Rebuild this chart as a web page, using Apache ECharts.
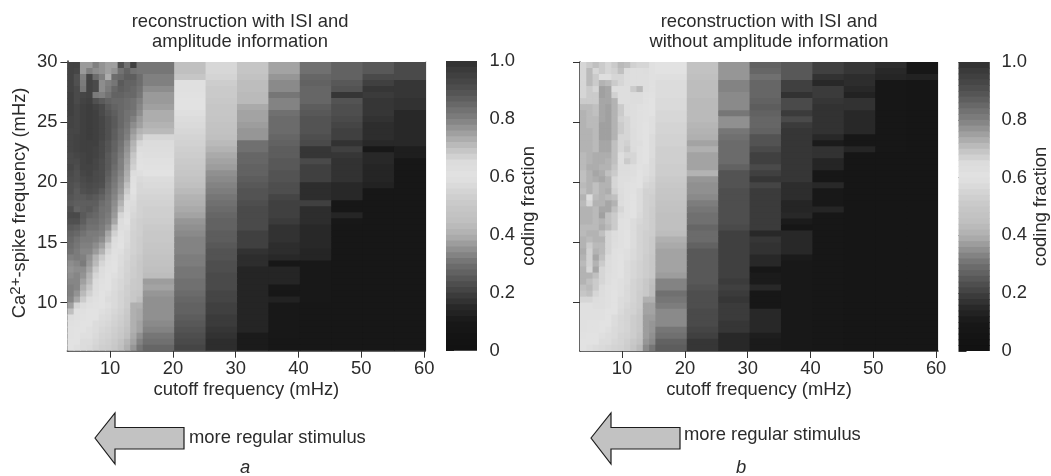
<!DOCTYPE html>
<html><head><meta charset="utf-8">
<style>html,body{margin:0;padding:0;background:#fff}#c{width:1051px;height:476px}</style>
<script src="https://cdn.jsdelivr.net/npm/echarts@6/dist/echarts.min.js"></script>
</head><body><div id="c"></div>
<script>
// Cell edges (mHz)
const cutoffEdgesA=[3.2,4.2,5.2,6.2,7.2,8.2,9.2,10.2,11.2,12.2,13.2,14.2,15.2,20.2,25.2,30.2,35.2,40.2,45.2,50.2,55.2,60.2];
const cutoffEdgesB=[3.3,4.3,5.3,6.3,7.3,8.3,9.3,10.3,11.3,12.3,13.3,14.3,15.3,20.3,25.3,30.3,35.3,40.3,45.3,50.3,55.3,60.3];
const caRowsTop=[30,29.5,29,28.5,28,27.5,27,26.5,26,25.5,25,24.5,24,23.5,23,22.5,22,21.5,21,20.5,20,19.5,19,18.5,18,17.5,17,16.5,16,15.5,15,14.5,14,13.5,13,12.5,12,11.5,11,10.5,10,9.5,9,8.5,8,7.5,7,6.5];
const rowStep=0.5;
const xTicks=[10,20,30,40,50,60], yTicks=[10,15,20,25,30], barTicks=[0,0.2,0.4,0.6,0.8,1];
// colour scale: coding fraction -> grey level
const scaleValues=[0,5,10,15,20,25,30,35,40,45,50,55,60,65,70,75,80,85,90,95,100];
const scaleGreys=[0x12,0x14,0x18,0x28,0x40,0x58,0x70,0x90,0xb0,0xc0,0xc8,0xd4,0xe2,0xdc,0xc0,0xa0,0x80,0x68,0x50,0x40,0x30];
const barLevels=[98,96,94,92,90,88,86,84,82,80,78,76,74,72,70,68,66,64,62,60,58,56,54,52,50,48,46,44,42,40,38,36,34,32,30,28,26,24,22,20,18,16,14,12,10,8,6,4,2,0];

// Panel a: coding fraction (%), rows top to bottom, 1 mHz columns from 3 to 15 mHz
const fineA=[
[94,94,76,76,80,77,75,75,90,83,95,82],
[94,93,76,80,78,77,75,77,83,86,83,82],
[94,90,80,93,84,80,73,84,85,87,87,84],
[94,90,81,94,92,78,80,82,88,86,86,84],
[94,92,82,94,92,78,81,85,87,86,85,83],
[95,92,93,94,81,80,83,86,86,85,85,82],
[95,92,94,95,90,88,86,85,85,84,83,80],
[95,93,95,96,94,92,88,86,85,84,83,79],
[95,93,95,96,95,92,89,87,85,83,82,78],
[94,93,95,96,95,93,90,88,85,83,80,76],
[94,93,95,96,95,93,90,88,85,82,78,75],
[93,93,95,96,95,93,90,87,84,81,76,72],
[93,94,95,96,95,93,90,87,84,80,74,70],
[93,94,95,95,95,92,89,86,83,78,72,66],
[93,94,95,95,94,92,89,86,82,77,71,64],
[92,93,94,95,94,92,88,85,81,76,69,62],
[92,92,94,95,93,91,88,85,80,75,68,61],
[93,91,94,94,93,91,88,84,80,74,67,60],
[92,90,93,94,92,91,87,83,79,73,64,59],
[91,90,92,93,92,91,86,82,78,72,62,57],
[90,89,91,92,91,90,85,81,77,70,61,56],
[90,88,90,91,90,88,84,80,76,68,60,56],
[89,88,88,89,88,86,83,79,74,66,59,55],
[88,87,87,87,87,84,82,78,72,63,58,54],
[90,86,87,88,86,83,82,77,70,63,57,54],
[92,92,88,86,85,83,81,76,66,62,56,54],
[90,90,87,84,84,82,80,74,64,60,55,53],
[88,87,85,83,83,81,78,70,63,59,55,53],
[86,85,83,81,81,80,74,67,62,58,54,53],
[85,83,81,81,80,78,72,65,61,58,54,52],
[84,82,80,80,78,75,68,63,60,57,54,52],
[83,81,79,79,76,72,66,62,59,56,54,52],
[80,81,80,77,72,68,63,61,58,56,53,51],
[78,79,81,76,71,66,62,60,58,55,53,50],
[77,78,78,74,68,64,61,60,57,55,52,50],
[78,79,77,72,66,63,60,59,57,54,52,50],
[79,79,75,71,65,62,60,58,56,54,51,50],
[80,79,73,69,64,61,60,58,56,53,51,50],
[80,77,71,67,63,60,59,57,55,53,50,49],
[79,74,68,64,62,60,58,57,55,52,50,45],
[75,66,64,62,61,60,59,57,55,52,40,40],
[70,62,62,60,60,59,58,56,54,51,40,39],
[63,62,61,60,60,58,57,55,53,50,40,39],
[62,61,60,60,58,57,56,54,52,49,40,38],
[61,60,60,59,58,56,55,53,51,47,40,38],
[61,60,59,59,57,55,54,52,50,45,39,35],
[60,60,58,58,56,54,53,51,47,42,38,33],
[60,59,58,57,55,53,52,50,45,40,36,31]];
// Panel a: 5 mHz columns, top to bottom
const a15=[82,82,80,80,78,76,76,75,73,73,72,71,66,65,64,63,62,61,60,58,57,56,55,54,53,53,52,51,50,50,49,48,47,46,45,44,37,38,36,35,35,35,35,34,33,31,30,28];
const a20=[70,70,69,62,62,61,60,60,59,58,57,56,55,54,53,52,51,50,49,47,45,43,41,40,39,38,36,35,34,33,33,33,32,32,31,31,30,30,29,28,27,27,26,25,24,23,22,21];
const a25=[56,56,55,52,51,51,50,49,49,48,47,46,45,43,41,39,38,37,35,34,33,32,31,30,29,28,27,27,26,26,25,24,24,23,23,22,22,22,21,21,20,20,19,19,18,17,16,16];
const a30=[48,48,46,44,44,43,43,39,38,38,37,36,36,30,30,28,28,27,27,26,25,24,24,23,22,22,22,22,20,20,20,17,16,16,14,14,14,14,14,14,14,14,14,14,14,11,11,11];
const a35=[38,38,36,34,34,31,33,33,30,29,29,29,28,27,26,26,25,25,24,24,23,23,21,20,20,20,19,17,17,17,16,16,15,9,14,14,14,10,9,13,10,10,10,10,10,10,9,9];
const a40=[30,30,28,27,28,28,28,26,25,24,24,24,23,22,18,18,22,20,20,20,16,16,16,20,16,16,16,15,15,15,15,14,14,10,10,10,10,10,10,10,9,9,9,9,9,9,9,9];
const a45=[27,27,27,25,24,18,24,23,23,22,21,20,20,17,20,18,17,17,17,17,15,15,15,9,9,14,10,9,9,9,9,9,9,9,9,9,9,9,9,9,9,9,9,9,9,9,9,9];
const a50=[25,25,22,20,18,19,18,18,18,17,16,16,16,15,10,15,15,14,14,14,13,9,9,9,9,9,9,9,9,9,9,9,9,9,9,9,9,9,9,9,9,9,9,9,9,9,9,9];
const a55=[22,22,22,18,18,18,17,17,15,15,15,15,15,15,12,12,9,9,9,9,9,9,9,9,9,9,9,9,9,9,9,9,9,9,9,9,9,9,9,9,9,9,9,9,9,9,9,9];

// Panel b
const fineB=[
[66,68,70,68,66,68,71,70,67,66,66,62],
[66,71,66,68,66,67,70,65,63,63,64,62],
[66,71,68,63,63,66,66,64,63,63,63,62],
[66,71,68,72,71,68,66,64,63,63,63,62],
[66,68,66,75,74,63,63,63,68,71,63,62],
[66,68,68,75,74,67,63,63,64,64,62,61],
[68,68,68,74,74,72,63,63,64,64,62,60],
[71,71,70,74,75,72,68,64,63,62,61,60],
[72,71,70,74,75,72,68,64,63,62,61,60],
[72,71,71,74,75,72,67,66,63,62,61,59],
[72,71,71,75,75,72,68,66,63,62,60,59],
[72,72,71,75,75,72,68,66,64,62,60,59],
[72,72,71,75,75,72,66,66,64,62,60,58],
[72,72,71,74,74,70,66,67,64,63,60,58],
[72,72,71,74,74,70,66,68,65,62,60,58],
[71,72,73,73,73,70,63,66,66,62,60,58],
[71,72,73,73,72,70,63,68,66,62,60,57],
[71,73,73,72,72,69,64,64,63,61,59,57],
[70,72,74,73,70,68,64,64,63,60,59,57],
[70,72,73,74,72,66,63,63,62,60,58,56],
[71,72,70,72,72,66,63,62,61,60,56,55],
[70,72,70,72,73,67,64,62,61,58,54,54],
[72,63,71,72,71,70,65,62,60,58,54,53],
[71,66,72,72,74,72,64,62,60,58,54,53],
[72,72,71,74,74,70,66,62,60,58,54,52],
[72,72,71,75,70,68,64,62,60,57,54,52],
[72,72,71,72,70,68,62,61,58,56,54,52],
[71,71,71,73,71,68,62,61,58,55,54,52],
[71,72,72,70,66,64,62,60,58,55,53,52],
[72,71,72,72,66,64,62,60,58,55,53,51],
[72,68,71,71,66,63,62,60,58,55,53,51],
[73,67,72,71,66,62,61,59,57,55,53,51],
[72,67,74,70,65,62,60,59,57,55,52,50],
[71,67,72,68,64,62,60,58,56,54,52,50],
[72,66,74,66,64,62,60,58,56,54,52,50],
[72,72,70,66,63,62,60,58,56,54,52,50],
[72,70,68,66,63,61,59,58,55,53,50,45],
[70,71,68,65,62,61,59,57,55,53,50,44],
[69,70,66,64,62,60,59,57,55,52,50,44],
[66,66,64,63,62,60,58,57,55,52,40,40],
[62,62,63,63,62,60,58,56,54,52,38,38],
[62,62,62,62,60,60,57,55,54,51,38,38],
[62,62,62,62,60,58,56,55,52,50,37,37],
[62,61,61,60,60,58,56,55,52,50,37,36],
[62,61,61,60,59,57,56,55,52,50,37,36],
[61,60,60,59,58,57,55,54,52,48,37,35],
[60,60,60,58,58,56,55,53,50,46,36,34],
[60,59,58,57,56,55,54,52,48,43,34,31]];
const b15=[60,60,59,58,58,58,57,57,56,56,55,55,54,54,53,53,53,52,52,51,50,49,48,47,46,45,45,45,44,40,39,38,38,38,38,37,33,33,30,31,32,34,34,34,31,30,27,26];
const b20=[46,46,45,44,44,44,43,43,43,43,42,41,40,38,40,38,38,38,41,36,35,35,34,32,31,30,30,28,29,29,27,25,25,25,25,25,25,24,23,23,23,22,22,22,21,20,18,18];
const b25=[36,36,36,33,33,34,34,34,31,35,35,31,30,29,29,29,29,27,24,24,24,23,23,23,23,23,23,22,20,20,20,20,20,20,20,20,19,20,19,18,19,19,19,18,18,15,15,15];
const b30=[27,28,30,28,28,28,27,26,27,28,28,27,24,24,22,20,20,22,20,18,21,19,19,19,19,19,19,19,15,18,17,17,15,15,9,11,11,15,9,9,9,15,15,15,15,12,11,11];
const b35=[25,25,25,20,20,17,22,22,19,22,19,18,18,18,18,18,18,18,18,18,16,16,16,14,14,15,11,8,15,15,15,15,11,10,10,10,10,10,10,10,10,10,10,10,10,10,10,10];
const b40=[20,20,17,15,19,19,18,17,17,17,17,17,15,11,17,17,14,14,9,9,15,10,10,10,14,9,9,9,9,9,9,9,9,9,9,9,9,9,9,9,9,9,9,9,9,9,9,9];
const b45=[18,18,16,16,15,13,17,17,15,15,15,15,9,9,14,8,8,8,8,8,8,8,8,8,8,8,8,8,8,8,8,8,8,8,8,8,8,8,8,8,8,8,8,8,8,8,8,8];
const b50=[16,15,14,9,9,9,9,9,9,9,9,9,9,9,9,8,8,8,8,8,8,8,8,8,8,8,8,8,8,8,8,8,8,8,8,8,8,8,8,8,8,8,8,8,8,8,8,8];
const b55=[9,9,13,8,8,8,8,8,8,8,8,8,8,8,8,8,8,8,8,8,8,8,8,8,8,8,8,8,8,8,8,8,8,8,8,8,8,8,8,8,8,8,8,8,8,8,8,8];

const coarseA=[a15,a20,a25,a30,a35,a40,a45,a50,a55];
const coarseB=[b15,b20,b25,b30,b35,b40,b45,b50,b55];

function greyOf(pct){
  let i=0; while(i<scaleValues.length-2 && pct>=scaleValues[i+1]) i++;
  const t=(pct-scaleValues[i])/(scaleValues[i+1]-scaleValues[i]);
  const g=Math.round(scaleGreys[i]+t*(scaleGreys[i+1]-scaleGreys[i]));
  return 'rgb('+g+','+g+','+g+')';
}
function cells(fine,coarse,edges){
  const out=[];
  caRowsTop.forEach((yTop,r)=>{
    const row=fine[r].concat(coarse.map(c=>c[r]));
    row.forEach((v,c)=>out.push([edges[c],edges[c+1],yTop-rowStep,yTop,v]));
  });
  return out;
}
function renderCell(params,api){
  const p0=api.coord([api.value(0),api.value(3)]);
  const p1=api.coord([api.value(1),api.value(2)]);
  const col=greyOf(api.value(4));
  // each cell runs slightly under its right and lower neighbours so no seams show
  return {type:'rect',shape:{x:p0[0],y:p0[1],width:p1[0]-p0[0]+0.8,height:p1[1]-p0[1]+0.8},
    style:{fill:col,stroke:null}};
}
const FONT='"Liberation Sans",Arial,sans-serif', INK='#2b2b2b';
const LABEL=18.4;
const base={show:true,lineStyle:{color:'#333',width:1.5}};
function xAxis(grid,edges){
  return {type:'value',gridIndex:grid,min:edges[0],max:edges[edges.length-1],
    name:'cutoff frequency (mHz)',nameLocation:'middle',nameGap:30,nameMoveOverlap:false,
    nameTextStyle:{fontFamily:FONT,fontSize:LABEL,color:INK},
    splitLine:{show:false},axisLine:base,
    axisTick:{show:true,length:7,lineStyle:{color:'#333',width:1},customValues:xTicks},
    axisLabel:{fontFamily:FONT,fontSize:LABEL,color:INK,margin:9,customValues:xTicks}};
}
function yAxis(grid,max,min,withLabels){
  const ax={type:'value',gridIndex:grid,min:min,max:max,splitLine:{show:false},axisLine:base,
    axisTick:{show:true,length:7,lineStyle:{color:'#333',width:1},customValues:yTicks},
    axisLabel:{show:withLabels,fontFamily:FONT,fontSize:LABEL,color:INK,margin:10,customValues:yTicks}};
  if(withLabels){
    ax.name='{b|Ca}{s|2+}{b|-spike frequency (mHz)}';
    ax.nameLocation='middle';ax.nameGap=35;ax.nameRotate=90;ax.nameMoveOverlap=false;
    ax.nameTextStyle={padding:[0,0,0,6],rich:{b:{fontFamily:FONT,fontSize:LABEL,color:INK,lineHeight:24},
      s:{fontFamily:FONT,fontSize:15,color:INK,verticalAlign:'top',lineHeight:24}}};
  }
  return ax;
}
function barX(grid){return {type:'value',gridIndex:grid,min:0,max:1,show:false};}
function barY(grid,gap){
  return {type:'value',gridIndex:grid,min:0,max:100,position:'right',
    name:'coding fraction',nameLocation:'middle',nameGap:gap,nameRotate:90,nameMoveOverlap:false,
    nameTextStyle:{fontFamily:FONT,fontSize:LABEL,color:INK},
    splitLine:{show:false},axisLine:{show:false},
    axisTick:{show:true,length:8,lineStyle:{color:'#333',width:1},customValues:barTicks.map(t=>t*100)},
    axisLabel:{fontFamily:FONT,fontSize:LABEL,color:INK,margin:12.5,customValues:barTicks.map(t=>t*100),
      formatter:v=>v===0?'0':(v/100).toFixed(1)}};
}
const barData=barLevels.map(l=>[0,1,l,l+2,l+1]);
function series(x,y,data){
  return {type:'custom',coordinateSystem:'cartesian2d',xAxisIndex:x,yAxisIndex:y,
    renderItem:renderCell,data:data,encode:{x:[0,1],y:[2,3]},animation:false,silent:true,clip:true};
}
function arrow(dx){
  return {type:'polygon',shape:{points:[[95+dx,438],[115+dx,413],[115+dx,427.5],[184+dx,427.5],[184+dx,449],[115+dx,449],[115+dx,464]]},
    style:{fill:'#c2c2c2',stroke:'#1c1c1c',lineWidth:1.2}};
}
function txt(x,y,s,extra){
  return {type:'text',x:x,y:y,style:Object.assign({text:s,fontFamily:FONT,fontSize:LABEL,fill:INK,verticalAlign:'middle'},extra||{})};
}
const chart=echarts.init(document.getElementById('c'),null,{renderer:'canvas'});
chart.setOption({
  animation:false,backgroundColor:'#fff',
  title:[
    {text:'reconstruction with ISI and\namplitude information',left:235,top:7,textAlign:'center',
     textStyle:{fontFamily:FONT,fontSize:LABEL,fontWeight:'normal',color:INK,lineHeight:20}},
    {text:'reconstruction with ISI and\nwithout amplitude information',left:764,top:7,textAlign:'center',
     textStyle:{fontFamily:FONT,fontSize:LABEL,fontWeight:'normal',color:INK,lineHeight:20}}
  ],
  grid:[
    {left:67.4,top:61,width:358,height:289.7},
    {left:446,top:61,width:31,height:289.7},
    {left:580,top:62,width:358,height:289},
    {left:958.5,top:62,width:31,height:289}
  ],
  xAxis:[xAxis(0,cutoffEdgesA),barX(1),xAxis(2,cutoffEdgesB),barX(3)],
  yAxis:[yAxis(0,30.08,6,true),barY(1,43),yAxis(2,30,5.98,false),barY(3,43)],
  series:[
    series(0,0,cells(fineA,coarseA,cutoffEdgesA)),
    series(1,1,barData),
    series(2,2,cells(fineB,coarseB,cutoffEdgesB)),
    series(3,3,barData)
  ],
  graphic:[
    arrow(0),arrow(496),
    {type:'rect',shape:{x:425.2,y:61,width:1.4,height:290},style:{fill:'#dcdcdc'}},
    {type:'rect',shape:{x:937.2,y:62,width:1.4,height:290},style:{fill:'#dcdcdc'}},
    txt(189,438,'more regular stimulus'),
    txt(684,435,'more regular stimulus'),
    txt(240,468,'a',{fontStyle:'italic'}),
    txt(736,468,'b',{fontStyle:'italic'})
  ]
});
</script></body></html>
